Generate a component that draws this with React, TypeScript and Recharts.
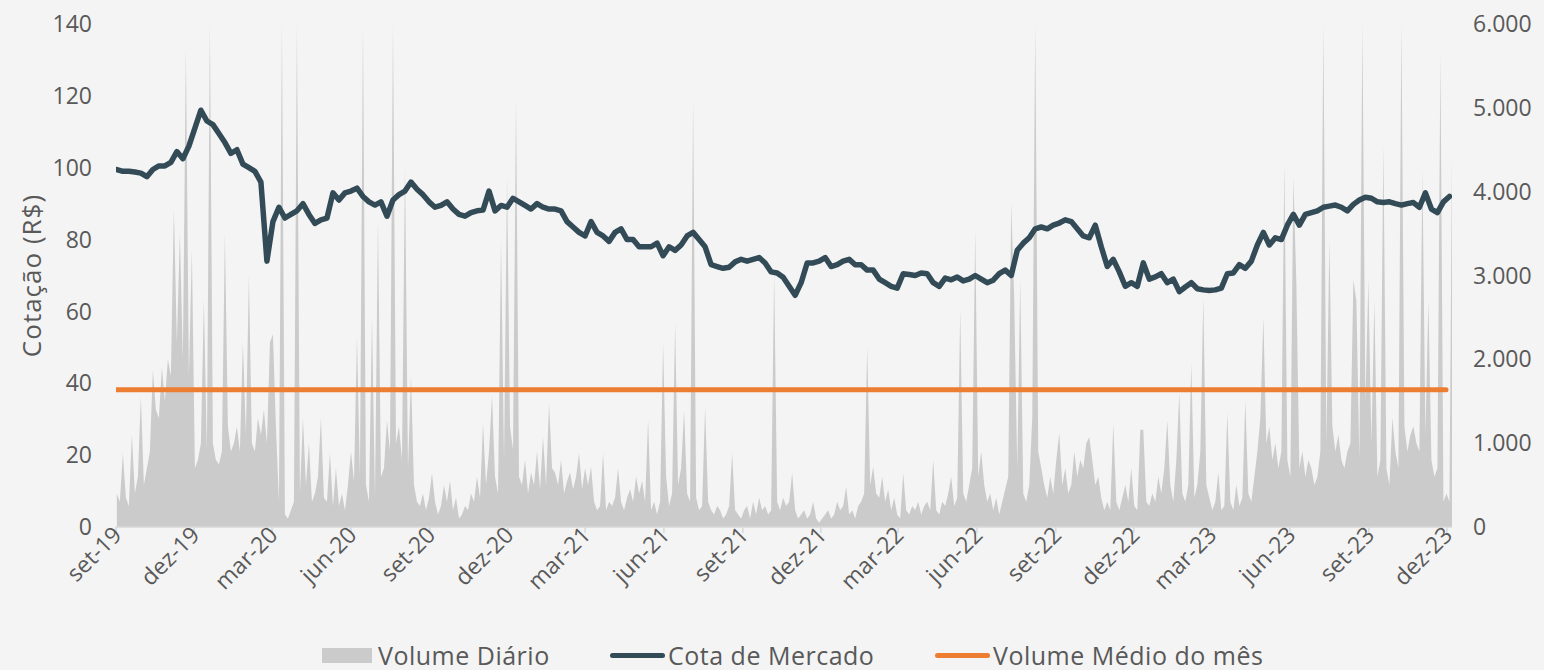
import React from 'react';
import { ComposedChart, Area, Line, XAxis, YAxis, Legend } from 'recharts';

const FONTE = '"Open Sans", "Noto Sans", sans-serif';
const COR_TEXTO = '#595959';
const COR_VOLUME = '#cbcbcb';
const COR_COTA = '#334b57';
const COR_MEDIA = '#ed7d31';

const INICIO = Date.UTC(2019, 8, 1);
const DIA = 86400000;
const MESES = ['jan', 'fev', 'mar', 'abr', 'mai', 'jun', 'jul', 'ago', 'set', 'out', 'nov', 'dez'];

// Rótulos do eixo X (trimestrais)
const rotulosX = [
  'set-19', 'dez-19', 'mar-20', 'jun-20', 'set-20', 'dez-20', 'mar-21', 'jun-21', 'set-21',
  'dez-21', 'mar-22', 'jun-22', 'set-22', 'dez-22', 'mar-23', 'jun-23', 'set-23', 'dez-23',
];
const ticksEsquerda = [0, 20, 40, 60, 80, 100, 120, 140];
const ticksDireita = [0, 1000, 2000, 3000, 4000, 5000, 6000];

// Cota de mercado (R$), semanal a partir de 02/09/2019
const cotacao = [
  99.5, 99, 99, 98.8, 98.5, 97.5, 99.5, 100.5, 100.5, 101.5,
  104.5, 102.5, 106, 111, 116, 113, 112, 109.5, 107, 104,
  105, 101, 100, 99, 96, 74, 85, 89, 86, 87,
  88, 90, 87, 84.5, 85.5, 86, 93, 91, 93, 93.5,
  94.3, 92, 90.5, 89.6, 90.5, 86.5, 91, 92.5, 93.5, 96,
  94, 92.5, 90.5, 89, 89.5, 90.5, 88.5, 87, 86.5, 87.5,
  88, 88.2, 93.5, 88, 89.5, 89, 91.5, 90.5, 89.5, 88.5,
  90, 89, 88.5, 88.5, 88, 85, 83.5, 82, 81, 85,
  82, 81, 79.5, 82, 83, 80, 80, 78, 78, 78,
  79, 75.5, 78, 77, 78.5, 81, 82, 80, 78, 73,
  72.5, 72, 72.3, 73.8, 74.5, 74, 74.5, 75, 73.5, 71,
  70.7, 69.5, 67, 64.5, 68, 73.5, 73.5, 74, 75, 72.5,
  73, 74, 74.5, 73, 73, 71.5, 71.5, 69, 68, 67,
  66.5, 70.5, 70.3, 70, 70.7, 70.5, 68, 67, 69.3, 68.8,
  69.6, 68.5, 69, 70, 69, 68, 68.7, 70.5, 71.5, 70,
  77, 79, 80.5, 83, 83.5, 83, 84, 84.6, 85.5, 85,
  83, 81, 80.5, 84, 78, 72.5, 74.5, 71, 67, 68,
  67, 73.5, 69, 69.6, 70.5, 68, 69, 65.5, 66.8, 68,
  66.3, 66, 65.8, 66, 66.5, 70.5, 70.7, 73, 72, 74,
  78.5, 82, 78.5, 80.5, 80, 84, 87, 84, 87, 87.5,
  88, 89, 89.3, 89.6, 89, 88, 89.8, 91, 91.8, 91.5,
  90.5, 90.3, 90.5, 90, 89.6, 90, 90.3, 89, 93, 88.5,
  87.5, 90.5, 92,
];

// Volume diário (amostrado a cada meia semana a partir de 02/09/2019)
const volumeDiario = [
  400, 300, 880, 350, 250, 1100, 400, 600, 1550, 500,
  700, 900, 1870, 1400, 1300, 1900, 1500, 2000, 1800, 3800,
  2200, 3500, 2000, 5700, 1800, 3300, 700, 800, 1000, 2700,
  900, 6000, 1000, 800, 750, 900, 3500, 1200, 900, 1000,
  1200, 900, 2200, 1100, 3000, 1000, 900, 1300, 1100, 1400,
  1000, 2200, 2300, 1200, 300, 6000, 150, 100, 200, 300,
  6000, 400, 1300, 500, 1000, 300, 400, 600, 1300, 350,
  300, 880, 250, 700, 250, 400, 200, 500, 900, 550,
  2270, 600, 6000, 500, 300, 2500, 350, 3660, 600, 700,
  1270, 900, 6000, 1000, 1200, 800, 4300, 700, 1800, 500,
  300, 250, 400, 200, 350, 640, 300, 150, 250, 500,
  300, 550, 200, 350, 100, 150, 250, 200, 400, 300,
  600, 350, 1230, 500, 900, 1570, 600, 400, 3420, 800,
  4170, 1200, 920, 5100, 600, 500, 800, 400, 650, 500,
  900, 450, 1070, 500, 1480, 700, 650, 500, 800, 400,
  550, 650, 450, 600, 880, 450, 700, 500, 720, 300,
  200, 250, 880, 200, 300, 250, 350, 700, 300, 200,
  350, 450, 300, 600, 400, 550, 300, 1270, 200, 300,
  150, 300, 2190, 600, 250, 400, 2430, 500, 700, 1390,
  400, 300, 5100, 350, 200, 250, 1430, 300, 200, 150,
  250, 200, 100, 150, 250, 880, 200, 150, 100, 200,
  250, 100, 300, 150, 350, 200, 250, 150, 200, 3030,
  300, 200, 350, 250, 300, 640, 200, 100, 150, 200,
  100, 150, 300, 100, 50, 100, 150, 200, 100, 150,
  300, 200, 250, 480, 150, 200, 100, 250, 300, 400,
  2150, 500, 720, 400, 350, 600, 300, 450, 200, 350,
  150, 100, 640, 200, 150, 250, 200, 300, 150, 250,
  300, 200, 800, 200, 150, 300, 250, 400, 600, 250,
  350, 2590, 400, 300, 500, 700, 3540, 600, 900, 500,
  300, 400, 200, 350, 150, 300, 450, 600, 3860, 2700,
  700, 2950, 400, 300, 500, 1300, 6000, 900, 700, 500,
  350, 600, 400, 800, 1120, 500, 700, 400, 500, 900,
  600, 800, 700, 1000, 1070, 800, 500, 600, 350, 200,
  300, 200, 1230, 300, 200, 350, 500, 300, 700, 250,
  200, 1160, 1160, 300, 250, 400, 300, 600, 400, 700,
  1270, 500, 300, 800, 1600, 400, 300, 500, 1950, 350,
  500, 900, 2740, 500, 350, 200, 300, 650, 200, 250,
  1360, 300, 200, 500, 250, 350, 1510, 400, 300, 600,
  900, 1300, 2500, 1000, 1200, 800, 1000, 700, 900, 4340,
  800, 600, 4170, 2900, 700, 900, 600, 800, 700, 500,
  600, 900, 6000, 1000, 3420, 1200, 900, 1100, 800, 700,
  900, 1000, 2950, 2700, 800, 6000, 1500, 2950, 1000, 2700,
  600, 800, 4560, 700, 500, 1300, 900, 700, 6000, 1200,
  900, 1100, 1200, 1000, 900, 4260, 1100, 2700, 800, 600,
  700, 5650, 300, 400, 300, 5100,
];

// Volume médio do mês
const volumeMedioMes = [1636, 1636];
const datasVolumeMedio = ['2019-09-01', '2023-11-30'];

const diaDeRotulo = (r: string) => {
  const [m, a] = r.split('-');
  return Math.round((Date.UTC(2000 + Number(a), MESES.indexOf(m), 1) - INICIO) / DIA);
};
const diaDeData = (s: string) => {
  const [a, m, d] = s.split('-').map(Number);
  return Math.round((Date.UTC(a, m - 1, d) - INICIO) / DIA);
};
const ticksX = rotulosX.map(diaDeRotulo);
const rotuloPorDia = new Map(ticksX.map((d, i) => [d, rotulosX[i]]));

const dadosCotacao = cotacao.map((v, i) => ({ t: 1 + 7 * i, cota: v }));
const dadosVolume = volumeDiario.map((v, j) => ({ t: 1 + 3.5 * j, volume: v }));
const dadosMedia = volumeMedioMes.map((v, k) => ({ t: diaDeData(datasVolumeMedio[k]), media: v }));

const formatoMilhar = (v: number) => v.toLocaleString('pt-BR').replace(/\u00a0/g, '');

const TickX = (props: any) => {
  const { x, y, payload } = props;
  return (
    <g transform={`translate(${x},${y})`}>
      <text
        x={0}
        y={0}
        dx={4}
        dy={6}
        textAnchor="end"
        transform="rotate(-45)"
        fill={COR_TEXTO}
        fontSize={23}
        fontFamily={FONTE}
      >
        {rotuloPorDia.get(payload.value)}
      </text>
    </g>
  );
};

const RotuloY = (props: any) => {
  const vb = props.viewBox || { x: 0, y: 24, width: 116, height: 503 };
  const cx = vb.x + 31;
  const cy = vb.y + vb.height / 2;
  return (
    <text
      x={cx}
      y={cy}
      transform={`rotate(-90 ${cx} ${cy})`}
      textAnchor="middle"
      dominantBaseline="central"
      fill={COR_TEXTO}
      fontSize={26}
      letterSpacing={1}
      fontFamily={FONTE}
    >
      Cotação (R$)
    </text>
  );
};

const itemLegenda: React.CSSProperties = {
  position: 'absolute',
  top: 8,
  display: 'flex',
  alignItems: 'center',
  whiteSpace: 'nowrap',
  letterSpacing: 0.5,
};

const Legenda = () => (
  <div style={{ position: 'relative', height: 40, width: 1544, fontFamily: FONTE, fontSize: 25, color: COR_TEXTO }}>
    <div style={{ ...itemLegenda, left: 322 }}>
      <span style={{ display: 'inline-block', width: 50, height: 15, background: COR_VOLUME, marginRight: 6 }} />
      Volume Diário
    </div>
    <div style={{ ...itemLegenda, left: 610 }}>
      <span style={{ display: 'inline-block', width: 55, height: 5, borderRadius: 3, background: COR_COTA, marginRight: 3 }} />
      Cota de Mercado
    </div>
    <div style={{ ...itemLegenda, left: 935 }}>
      <span style={{ display: 'inline-block', width: 55, height: 5, borderRadius: 3, background: COR_MEDIA, marginRight: 3 }} />
      Volume Médio do mês
    </div>
  </div>
);

export default function App() {
  return (
    <div style={{ position: 'absolute', left: 0, top: 0, width: 1544, height: 670, background: '#f4f4f4' }}>
      <ComposedChart width={1544} height={670} margin={{ top: 24, right: 12, bottom: 0, left: 0 }}>
        <XAxis
          dataKey="t"
          type="number"
          domain={[0, 1558]}
          ticks={ticksX}
          interval={0}
          allowDataOverflow
          height={103}
          axisLine={{ stroke: '#d9d9d9', strokeWidth: 1.5 }}
          tickLine={{ stroke: '#d9d9d9', strokeWidth: 1.5 }}
          tickSize={6}
          tickMargin={2}
          tick={<TickX />}
        />
        <YAxis
          yAxisId="esq"
          orientation="left"
          width={116}
          domain={[0, 140]}
          ticks={ticksEsquerda}
          interval={0}
          axisLine={false}
          tickLine={false}
          tickSize={0}
          tickMargin={24}
          tick={{ fill: COR_TEXTO, fontSize: 23, fontFamily: FONTE }}
          label={<RotuloY />}
        />
        <YAxis
          yAxisId="dir"
          orientation="right"
          width={80}
          domain={[0, 6000]}
          ticks={ticksDireita}
          interval={0}
          allowDataOverflow
          axisLine={false}
          tickLine={false}
          tickSize={0}
          tickMargin={21}
          tickFormatter={formatoMilhar}
          tick={{ fill: COR_TEXTO, fontSize: 23, fontFamily: FONTE, textAnchor: 'start' }}
        />
        <Legend verticalAlign="bottom" height={40} wrapperStyle={{ left: 0, width: 1544 }} content={<Legenda />} />
        <Area
          data={dadosVolume}
          yAxisId="dir"
          dataKey="volume"
          name="Volume Diário"
          type="linear"
          stroke="none"
          fill={COR_VOLUME}
          fillOpacity={1}
          isAnimationActive={false}
          dot={false}
          activeDot={false}
        />
        <Line
          data={dadosCotacao}
          yAxisId="esq"
          dataKey="cota"
          name="Cota de Mercado"
          type="linear"
          stroke={COR_COTA}
          strokeWidth={5.5}
          strokeLinejoin="round"
          strokeLinecap="round"
          dot={false}
          activeDot={false}
          isAnimationActive={false}
        />
        <Line
          data={dadosMedia}
          yAxisId="dir"
          dataKey="media"
          name="Volume Médio do mês"
          type="linear"
          stroke={COR_MEDIA}
          strokeWidth={5}
          strokeLinecap="round"
          dot={false}
          activeDot={false}
          isAnimationActive={false}
        />
      </ComposedChart>
    </div>
  );
}
